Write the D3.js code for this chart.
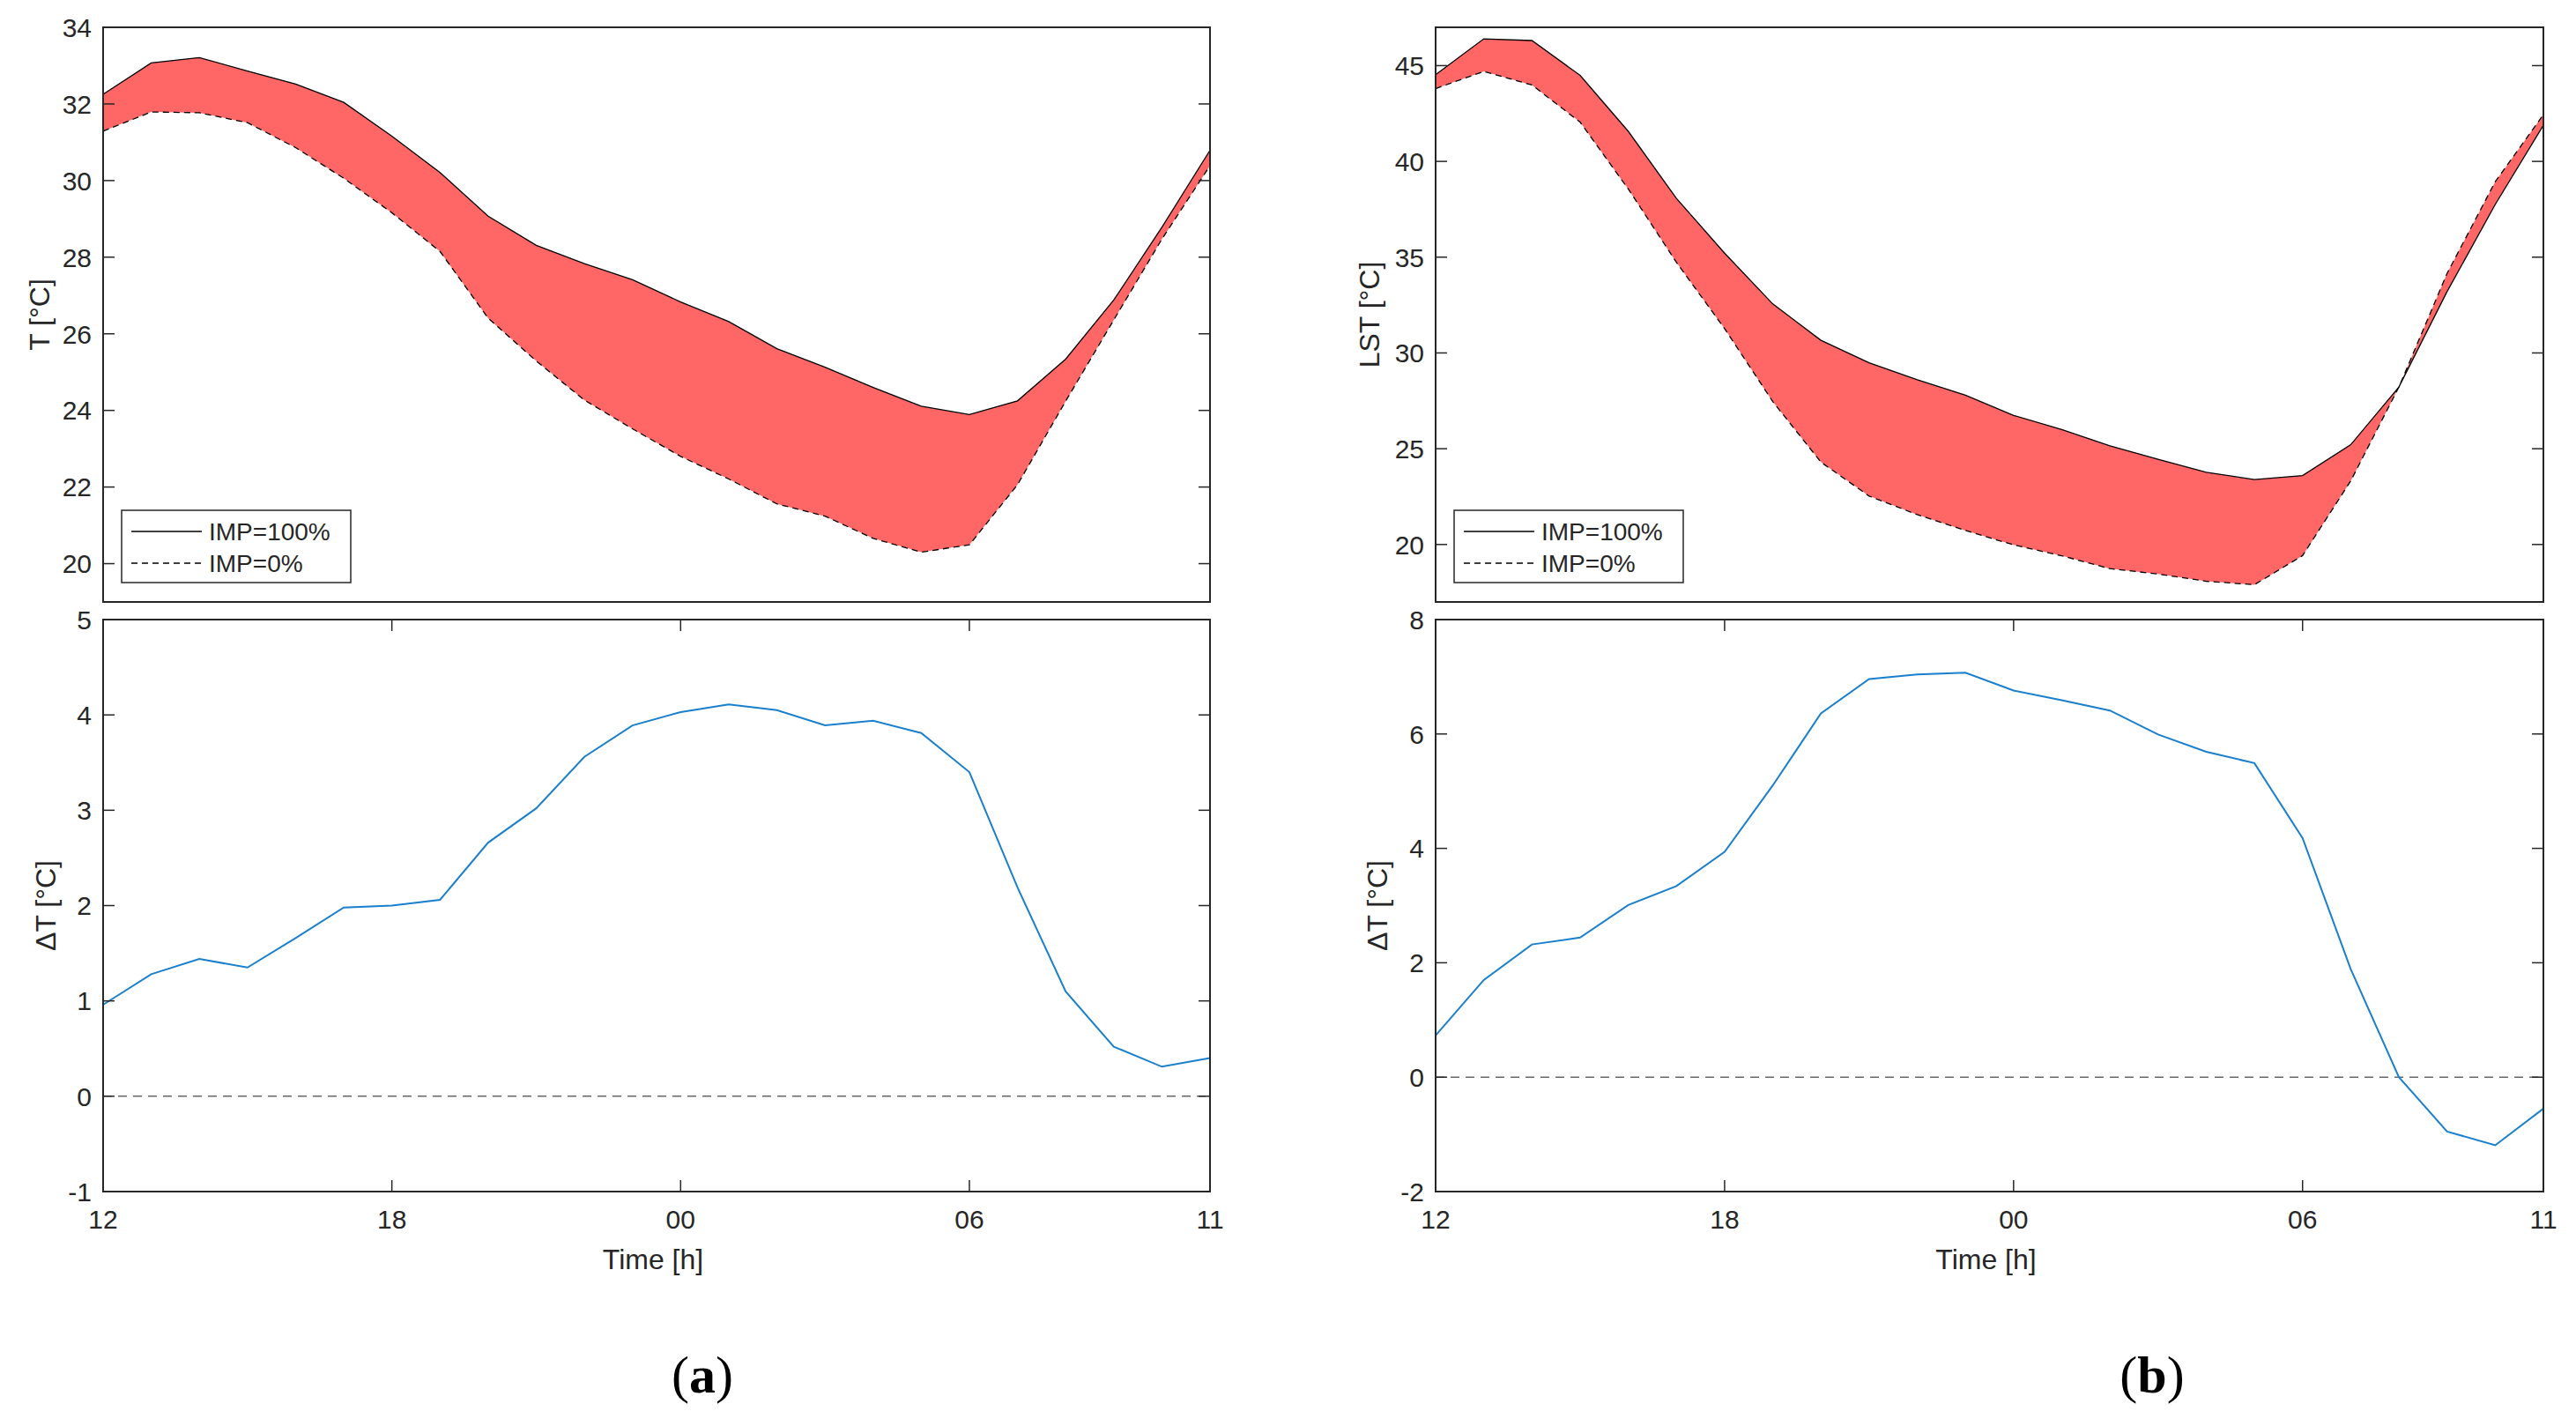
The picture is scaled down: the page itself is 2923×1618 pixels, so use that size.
<!DOCTYPE html>
<html>
<head>
<meta charset="utf-8">
<script src="https://cdn.jsdelivr.net/npm/d3@7"></script>
<style>
  body { margin: 0; background: #fff; }
  text { font-family: "Liberation Sans", Arial, Helvetica, sans-serif; fill: #262626; }
</style>
</head>
<body>
<svg id="fig"></svg>
<script>
const W = 2923, H = 1618;

// hours of the day, starting at noon
const hours = [12,13,14,15,16,17,18,19,20,21,22,23,0,1,2,3,4,5,6,7,8,9,10,11];
const xTickIdx = [0, 6, 12, 18, 23];
const xTickLabels = ["12", "18", "00", "06", "11"];

// (a) air temperature
const tImp100 = [32.25,33.07,33.21,32.86,32.52,32.04,31.16,30.21,29.07,28.31,27.83,27.41,26.83,26.32,25.61,25.13,24.60,24.11,23.89,24.25,25.34,26.88,28.78,30.79];
const tImp0   = [31.29,31.79,31.77,31.51,30.86,30.06,29.16,28.15,26.41,25.29,24.27,23.52,22.80,22.21,21.56,21.24,20.66,20.30,20.49,22.06,24.24,26.36,28.47,30.39];
const tDelta  = [0.96,1.28,1.44,1.35,1.66,1.98,2.00,2.06,2.66,3.02,3.56,3.89,4.03,4.11,4.05,3.89,3.94,3.81,3.40,2.19,1.10,0.52,0.31,0.40];

// (b) land surface temperature
const lstImp100 = [44.53,46.40,46.31,44.49,41.57,38.07,35.21,32.56,30.66,29.49,28.60,27.80,26.74,26.00,25.15,24.45,23.77,23.39,23.60,25.21,28.22,33.20,37.75,41.89];
const lstImp0   = [43.80,44.70,43.99,42.05,38.56,34.73,31.27,27.46,24.30,22.53,21.56,20.73,19.98,19.41,18.74,18.46,18.08,17.90,19.42,23.32,28.22,34.15,38.94,42.44];
const lstDelta  = [0.73,1.70,2.32,2.44,3.01,3.34,3.94,5.10,6.36,6.96,7.04,7.07,6.76,6.59,6.41,5.99,5.69,5.49,4.18,1.89,0.00,-0.95,-1.19,-0.55];

const legendLabels = ["IMP=100%", "IMP=0%"];

const svg = d3.select("#fig").attr("width", W).attr("height", H);
svg.append("rect").attr("width", W).attr("height", H).attr("fill", "#fff");

const AX = "#262626";
const TICK = 13;

const columns = [
  { x0: 117, x1: 1373, tag: "(a)", tagX: 797,
    top: { hi: tImp100, lo: tImp0, domain: [19, 34], ticks: d3.range(20, 35, 2), label: "T [°C]", labelX: 44 },
    bot: { d: tDelta, domain: [-1, 5], ticks: d3.range(-1, 6, 1), label: "ΔT [°C]", labelX: 51 } },
  { x0: 1629, x1: 2886, tag: "(b)", tagX: 2442,
    top: { hi: lstImp100, lo: lstImp0, domain: [17, 47], ticks: d3.range(20, 46, 5), label: "LST [°C]", labelX: 1553 },
    bot: { d: lstDelta, domain: [-2, 8], ticks: d3.range(-2, 9, 2), label: "ΔT [°C]", labelX: 1562 } }
];

const topY = [31, 683], botY = [703, 1352];

function frame(g, x, y, yTicks, showX) {
  const [xa, xb] = x.range();
  const [yb, ya] = y.range();
  // y ticks, inward on both sides
  yTicks.forEach(v => {
    const yy = y(v);
    g.append("line").attr("x1", xa).attr("x2", xa + TICK).attr("y1", yy).attr("y2", yy)
      .attr("stroke", AX).attr("stroke-width", 1.5);
    g.append("line").attr("x1", xb - TICK).attr("x2", xb).attr("y1", yy).attr("y2", yy)
      .attr("stroke", AX).attr("stroke-width", 1.5);
    g.append("text").attr("x", xa - 13).attr("y", yy).attr("dy", "0.36em")
      .attr("text-anchor", "end").style("font-size", "30px").text(v);
  });
  if (showX) {
    xTickIdx.forEach((v, i) => {
      const xx = x(v);
      g.append("line").attr("x1", xx).attr("x2", xx).attr("y1", yb).attr("y2", yb - TICK)
        .attr("stroke", AX).attr("stroke-width", 1.5);
      g.append("line").attr("x1", xx).attr("x2", xx).attr("y1", ya).attr("y2", ya + TICK)
        .attr("stroke", AX).attr("stroke-width", 1.5);
      g.append("text").attr("x", xx).attr("y", yb + 31).attr("dy", "0.36em")
        .attr("text-anchor", "middle").style("font-size", "30px").text(xTickLabels[i]);
    });
  }
  g.append("rect").attr("x", xa).attr("y", ya).attr("width", xb - xa).attr("height", yb - ya)
    .attr("fill", "none").attr("stroke", AX).attr("stroke-width", 2);
}

columns.forEach((c, ci) => {
  const x = d3.scaleLinear().domain([0, hours.length - 1]).range([c.x0, c.x1]);

  // top panel: band between the two imperviousness cases
  const gt = svg.append("g");
  const yt = d3.scaleLinear().domain(c.top.domain).range(topY.slice().reverse());
  const clipId = "clipT" + ci;
  svg.append("clipPath").attr("id", clipId).append("rect")
    .attr("x", c.x0).attr("y", topY[0]).attr("width", c.x1 - c.x0).attr("height", topY[1] - topY[0]);
  const band = d3.area().x((d, i) => x(i)).y0((d, i) => yt(c.top.lo[i])).y1((d, i) => yt(c.top.hi[i]));
  gt.append("path").datum(hours).attr("d", band).attr("fill", "#ff6666").attr("clip-path", `url(#${clipId})`);
  const line = arr => d3.line().x((d, i) => x(i)).y(d => yt(d))(arr);
  gt.append("path").attr("d", line(c.top.hi)).attr("fill", "none").attr("stroke", "#000").attr("stroke-width", 1.3);
  gt.append("path").attr("d", line(c.top.lo)).attr("fill", "none").attr("stroke", "#000").attr("stroke-width", 1.3)
    .attr("stroke-dasharray", "7,5");
  frame(gt, x, yt, c.top.ticks, false);
  gt.append("text").attr("transform", `translate(${c.top.labelX},${(topY[0] + topY[1]) / 2}) rotate(-90)`)
    .attr("text-anchor", "middle").attr("dy", "0.36em").style("font-size", "32px").text(c.top.label);

  // legend
  const lg = gt.append("g").attr("transform", `translate(${c.x0 + 21},579)`);
  lg.append("rect").attr("width", 260).attr("height", 82).attr("fill", "#fff")
    .attr("stroke", AX).attr("stroke-width", 1.5);
  legendLabels.forEach((t, i) => {
    const yy = 24 + i * 36;
    lg.append("line").attr("x1", 11).attr("x2", 91).attr("y1", yy).attr("y2", yy)
      .attr("stroke", "#000").attr("stroke-width", 1.5).attr("stroke-dasharray", i ? "7,5" : null);
    lg.append("text").attr("x", 99).attr("y", yy).attr("dy", "0.36em").style("font-size", "28px").text(t);
  });

  // bottom panel: difference
  const gb = svg.append("g");
  const yb = d3.scaleLinear().domain(c.bot.domain).range(botY.slice().reverse());
  gb.append("line").attr("x1", c.x0).attr("x2", c.x1).attr("y1", yb(0)).attr("y2", yb(0))
    .attr("stroke", "#666").attr("stroke-width", 1.5).attr("stroke-dasharray", "10,7");
  gb.append("path").attr("d", d3.line().x((d, i) => x(i)).y(d => yb(d))(c.bot.d))
    .attr("fill", "none").attr("stroke", "#1a7fcc").attr("stroke-width", 2);
  frame(gb, x, yb, c.bot.ticks, true);
  gb.append("text").attr("transform", `translate(${c.bot.labelX},${(botY[0] + botY[1]) / 2}) rotate(-90)`)
    .attr("text-anchor", "middle").attr("dy", "0.36em").style("font-size", "32px").text(c.bot.label);
  gb.append("text").attr("x", (c.x0 + c.x1) / 2 - 4).attr("y", 1428).attr("dy", "0.36em")
    .attr("text-anchor", "middle").style("font-size", "32px").text("Time [h]");

  // sub-figure tag
  const tag = svg.append("text").attr("x", c.tagX).attr("y", 1580).attr("text-anchor", "middle")
    .style("font-family", "'Liberation Serif', 'DejaVu Serif', serif").style("font-size", "60px").style("fill", "#000");
  tag.append("tspan").text("(");
  tag.append("tspan").style("font-weight", "bold").text(c.tag.slice(1, 2));
  tag.append("tspan").text(")");
});
</script>
</body>
</html>
